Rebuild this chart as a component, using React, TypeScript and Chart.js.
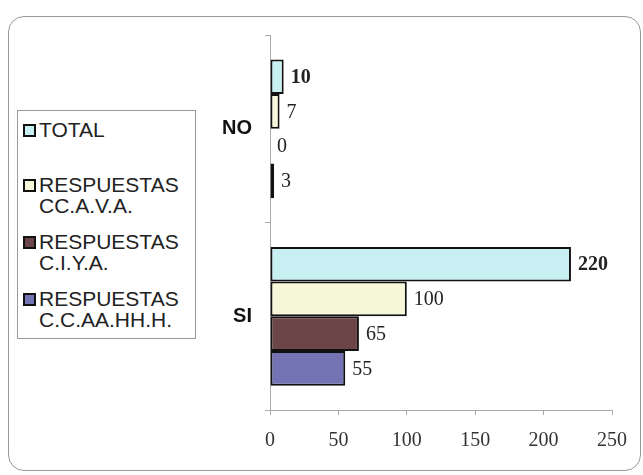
import React, { useEffect, useRef } from "react";
import { Chart, registerables } from "chart.js";

Chart.register(...registerables);

const categories = ["NO", "SI"];
const seriesNames = [
  ["TOTAL"],
  ["RESPUESTAS", "CC.A.V.A."],
  ["RESPUESTAS", "C.I.Y.A."],
  ["RESPUESTAS", "C.C.AA.HH.H."],
];
const totalValues = [10, 220];
const cavaValues = [7, 100];
const ciyaValues = [0, 65];
const ccaahhhValues = [3, 55];
const seriesColors = ["#c8f0f2", "#f7f8da", "#6b4548", "#7474b4"];
const xTicks = [0, 50, 100, 150, 200, 250];

const valueLabelPlugin = {
  id: "valueLabels",
  afterDatasetsDraw(chart: any) {
    const ctx = chart.ctx;
    ctx.save();
    chart.data.datasets.forEach((ds: any, di: number) => {
      const meta = chart.getDatasetMeta(di);
      meta.data.forEach((bar: any, i: number) => {
        const v = ds.data[i];
        ctx.font = (di === 0 ? "bold " : "") + "20px 'Liberation Serif', serif";
        ctx.fillStyle = "#222";
        ctx.textBaseline = "middle";
        ctx.textAlign = "left";
        ctx.fillText(String(v), bar.x + 7, bar.y + 1);
      });
    });
    ctx.restore();
  },
};

export default function App() {
  const ref = useRef<HTMLCanvasElement>(null);
  useEffect(() => {
    document.body.style.margin = "0";
    const data = [totalValues, cavaValues, ciyaValues, ccaahhhValues];
    const chart = new Chart(ref.current!, {
      type: "bar",
      data: {
        labels: categories,
        datasets: data.map((d, i) => ({
          label: seriesNames[i].join(" "),
          data: d,
          backgroundColor: seriesColors[i],
          borderColor: "#111",
          borderWidth: 2,
          borderSkipped: false,
          categoryPercentage: 0.74,
          barPercentage: 1,
        })),
      },
      options: {
        indexAxis: "y",
        animation: false,
        responsive: false,
        layout: { padding: { left: 0, top: 35, right: 31, bottom: 25 } },
        plugins: { legend: { display: false }, tooltip: { enabled: false } },
        scales: {
          x: {
            min: 0,
            max: 250,
            afterFit: (s: any) => { s.height = 40; },
            afterBuildTicks: (s: any) => { s.ticks = xTicks.map((v) => ({ value: v })); },
            border: { display: true, color: "#aaa", width: 1 },
            grid: { drawOnChartArea: false, drawTicks: true, tickLength: 5, color: "#aaa" },
            ticks: {
              padding: 14,
              color: "#333",
              font: { family: "'Liberation Serif', serif", size: 20 },
            },
          },
          y: {
            afterFit: (s: any) => { s.width = 270; },
            border: { display: true, color: "#aaa", width: 1 },
            grid: { drawOnChartArea: false, drawTicks: true, tickLength: 5, color: "#aaa", offset: true },
            ticks: {
              padding: 13,
              color: "#111",
              font: { family: "'Liberation Sans', Arial, sans-serif", size: 20, weight: "bold" },
            },
          },
        },
      },
      plugins: [valueLabelPlugin],
    } as any);
    return () => chart.destroy();
  }, []);

  const itemTops = [8, 63, 120, 177];

  return (
    <div style={{ position: "relative", width: 643, height: 475, background: "#fff" }}>
      <div
        style={{
          position: "absolute",
          left: 8,
          top: 16,
          width: 631,
          height: 453,
          border: "1px solid #999",
          borderRadius: 16,
        }}
      />
      <canvas ref={ref} width={643} height={475} style={{ position: "absolute", left: 0, top: 0 }} />
      <div
        style={{
          position: "absolute",
          left: 17,
          top: 110,
          width: 179,
          height: 229,
          border: "1px solid #999",
          background: "#fff",
          fontFamily: "'Liberation Sans', Arial, sans-serif",
          fontSize: 21,
          color: "#222",
          boxSizing: "border-box",
        }}
      >
        {seriesNames.map((lines, i) => (
          <div
            key={i}
            style={{
              position: "absolute",
              left: 5,
              top: itemTops[i],
              lineHeight: "21px",
              whiteSpace: "nowrap",
            }}
          >
            <span
              style={{
                position: "absolute",
                left: 0,
                top: 5,
                width: 9,
                height: 9,
                border: "2px solid #111",
                background: seriesColors[i],
              }}
            />
            {lines.map((l, j) => (
              <div key={j} style={{ paddingLeft: 16 }}>{l}</div>
            ))}
          </div>
        ))}
      </div>
    </div>
  );
}
